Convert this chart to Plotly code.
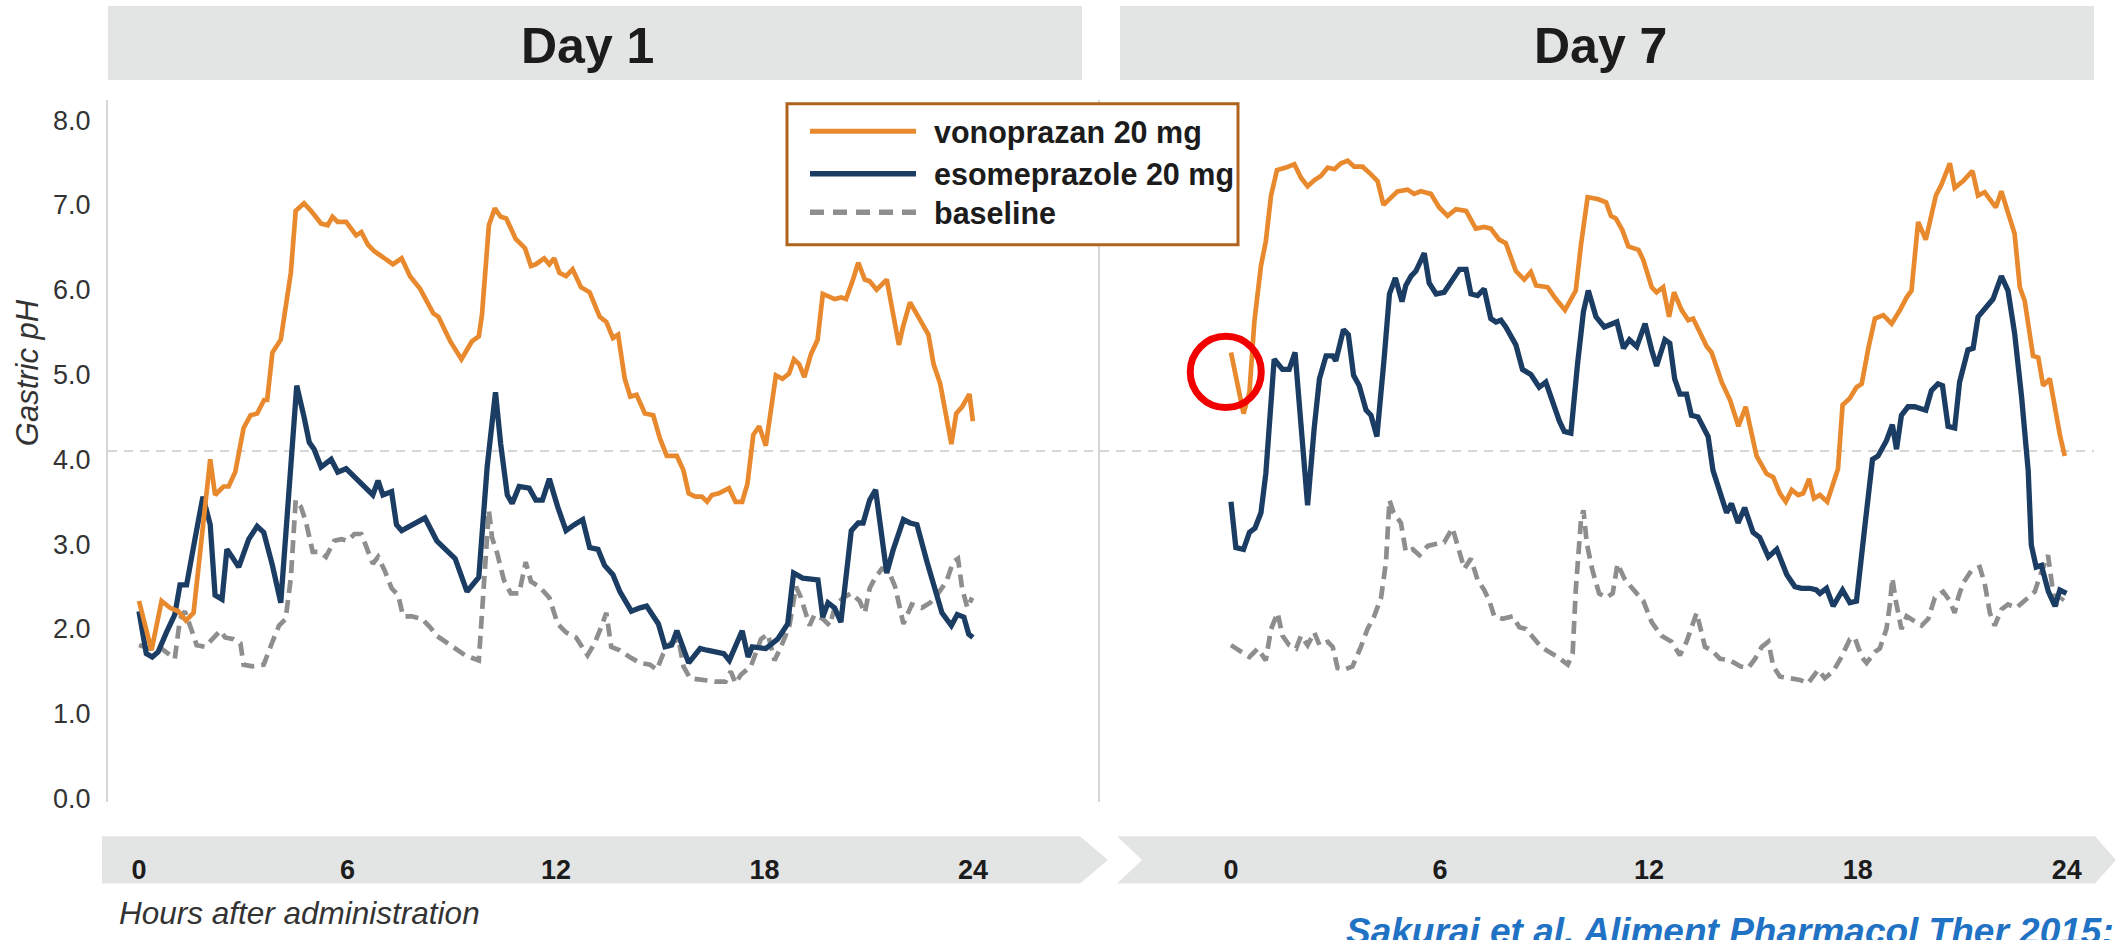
"""
Gastric pH over 24 h after vonoprazan 20 mg vs esomeprazole 20 mg
(Day 1 and Day 7 panels, baseline for reference).
"""

import plotly.graph_objects as go

# ─── Data (hours after administration, gastric pH) ──────────
D1_VONO_H = [0, 0.36, 0.65, 0.89, 1.13, 1.35, 1.57, 2.05, 2.19, 2.43, 2.58, 2.77, 3.01, 3.21, 3.40,
             3.60, 3.69, 3.84, 4.08, 4.22, 4.37, 4.51, 4.75, 4.95, 5.24, 5.43, 5.57, 5.72, 5.96,
             6.25, 6.40, 6.59, 6.78, 7.07, 7.31, 7.56, 7.80, 8.09, 8.47, 8.62, 8.96, 9.28, 9.58,
             9.78, 9.87, 10.07, 10.24, 10.41, 10.57, 10.84, 10.99, 11.11, 11.28, 11.42, 11.66,
             11.81, 11.95, 12.10, 12.29, 12.48, 12.72, 12.97, 13.26, 13.45, 13.64, 13.79, 13.98,
             14.14, 14.32, 14.56, 14.80, 14.99, 15.19, 15.48, 15.67, 15.82, 16.01, 16.20, 16.35,
             16.49, 16.69, 16.98, 17.17, 17.36, 17.51, 17.68, 17.85, 18.04, 18.33, 18.52, 18.71,
             18.85, 19.00, 19.15, 19.34, 19.53, 19.68, 20.02, 20.21, 20.35, 20.55, 20.70, 20.89,
             21.03, 21.23, 21.52, 21.71, 21.87, 22.00, 22.19, 22.43, 22.72, 22.87, 23.06, 23.38,
             23.52, 23.69, 23.90, 24.00]
D1_VONO_PH = [2.33, 1.75, 2.33, 2.25, 2.21, 2.10, 2.19, 4.00, 3.58, 3.68, 3.68, 3.85, 4.37, 4.52, 4.54,
              4.70, 4.70, 5.26, 5.41, 5.78, 6.20, 6.93, 7.02, 6.93, 6.78, 6.76, 6.86, 6.80, 6.80,
              6.64, 6.68, 6.53, 6.45, 6.37, 6.30, 6.37, 6.16, 6.01, 5.72, 5.68, 5.39, 5.18, 5.39,
              5.45, 5.70, 6.76, 6.96, 6.86, 6.84, 6.60, 6.53, 6.49, 6.28, 6.30, 6.37,
              6.30, 6.37, 6.20, 6.16, 6.24, 6.03, 5.97, 5.68, 5.62, 5.43, 5.47, 4.95,
              4.74, 4.76, 4.54, 4.52, 4.25, 4.04, 4.04, 3.87, 3.60, 3.56, 3.56, 3.50,
              3.58, 3.60, 3.66, 3.50, 3.50, 3.71, 4.29, 4.39, 4.16, 4.99, 4.95, 5.01,
              5.18, 5.12, 4.97, 5.24, 5.41, 5.95, 5.89, 5.91, 5.89, 6.12, 6.32, 6.12,
              6.10, 6.00, 6.12, 5.70, 5.35, 5.58, 5.85, 5.68, 5.47, 5.12, 4.89, 4.18,
              4.54, 4.62, 4.77, 4.45]

D1_ESO_H = [0, 0.21, 0.38, 0.55, 0.79, 1.03, 1.18, 1.37, 1.61, 1.84, 2.05, 2.19, 2.39, 2.53, 2.68,
            2.87, 3.16, 3.40, 3.59, 3.84, 4.08, 4.32, 4.54, 4.75, 4.90, 5.04, 5.24, 5.53, 5.72,
            5.96, 6.20, 6.40, 6.73, 6.88, 7.02, 7.27, 7.41, 7.56, 7.89, 8.23, 8.57, 8.81, 9.10,
            9.44, 9.78, 10.02, 10.26, 10.41, 10.60, 10.74, 10.94, 11.23, 11.42, 11.61, 11.81,
            12.05, 12.29, 12.53, 12.77, 12.97, 13.21, 13.40, 13.64, 13.84, 14.17, 14.42, 14.61,
            14.95, 15.14, 15.33, 15.48, 15.82, 16.15, 16.35, 16.64, 16.83, 16.99, 17.36, 17.53,
            17.65, 18.04, 18.38, 18.67, 18.84, 19.10, 19.35, 19.54, 19.68, 19.83, 20.02, 20.20,
            20.50, 20.70, 20.84, 21.03, 21.20, 21.52, 21.71, 22.00, 22.19, 22.39, 22.68, 22.97,
            23.11, 23.38, 23.55, 23.74, 23.88, 24.00]
D1_ESO_PH = [2.21, 1.71, 1.67, 1.73, 1.96, 2.17, 2.52, 2.52, 3.06, 3.56, 3.23, 2.40, 2.35, 2.94, 2.85,
             2.73, 3.06, 3.21, 3.14, 2.75, 2.31, 3.68, 4.87, 4.50, 4.20, 4.12, 3.91, 4.00, 3.85,
             3.89, 3.79, 3.70, 3.58, 3.75, 3.58, 3.62, 3.23, 3.16, 3.23, 3.31, 3.04, 2.94, 2.83,
             2.44, 2.61, 3.91, 4.79, 4.18, 3.58, 3.48, 3.68, 3.66, 3.52, 3.52, 3.77,
             3.44, 3.16, 3.23, 3.29, 2.96, 2.94, 2.75, 2.64, 2.44, 2.21, 2.25, 2.27,
             2.06, 1.79, 1.81, 1.98, 1.60, 1.77, 1.75, 1.73, 1.71, 1.63, 1.98, 1.67,
             1.79, 1.77, 1.88, 2.06, 2.66, 2.60, 2.58, 2.58, 2.14, 2.31, 2.25, 2.08,
             3.16, 3.25, 3.25, 3.52, 3.64, 2.66, 2.94, 3.29, 3.25, 3.23, 2.79, 2.37,
             2.19, 2.04, 2.17, 2.14, 1.94, 1.90]

D1_BASE_H = [0, 0.31, 0.65, 1.03, 1.18, 1.32, 1.52, 1.66, 1.90, 2.10, 2.34, 2.48, 2.72, 2.92, 3.01,
             3.26, 3.59, 3.84, 4.03, 4.22, 4.37, 4.51, 4.66, 4.80, 5.00, 5.19, 5.38, 5.62, 5.82,
             6.01, 6.20, 6.40, 6.59, 6.73, 6.88, 7.07, 7.27, 7.46, 7.60, 7.85, 8.14, 8.38, 8.57,
             8.81, 9.10, 9.39, 9.78, 9.92, 10.07, 10.16, 10.31, 10.50, 10.70, 10.94, 11.13, 11.28,
             11.52, 11.81, 12.05, 12.29, 12.58, 12.91, 13.11, 13.30, 13.45, 13.59, 13.84, 14.12,
             14.42, 14.71, 14.90, 15.09, 15.29, 15.53, 15.67, 15.86, 16.20, 16.59, 16.88, 17.03,
             17.17, 17.32, 17.61, 17.90, 18.10, 18.29, 18.48, 18.72, 18.91, 19.05, 19.30, 19.44,
             19.68, 19.88, 20.02, 20.26, 20.50, 20.74, 20.89, 21.03, 21.18, 21.38, 21.57, 21.76,
             22.00, 22.24, 22.53, 22.77, 23.00, 23.24, 23.43, 23.57, 23.69, 23.84, 23.98]
D1_BASE_PH = [1.81, 1.77, 1.77, 1.65, 2.12, 2.21, 1.98, 1.81, 1.79, 1.88, 1.98, 1.90, 1.88, 1.83, 1.58,
              1.56, 1.58, 1.85, 2.04, 2.12, 2.60, 3.52, 3.44, 3.27, 2.91, 2.91, 2.85, 3.04, 3.06,
              3.04, 3.12, 3.12, 2.91, 2.77, 2.85, 2.69, 2.48, 2.40, 2.15, 2.15, 2.12, 2.02, 1.92,
              1.85, 1.77, 1.69, 1.63, 2.50, 3.40, 3.08, 2.89, 2.58, 2.42, 2.42, 2.79, 2.56,
              2.50, 2.37, 2.06, 1.96, 1.90, 1.69, 1.83, 2.02, 2.19, 1.79, 1.75, 1.67,
              1.60, 1.58, 1.52, 1.71, 1.83, 1.88, 1.56, 1.42, 1.40, 1.38, 1.38, 1.50,
              1.36, 1.46, 1.56, 1.88, 1.94, 1.63, 1.79, 2.04, 2.50, 2.37, 2.04, 2.17,
              2.12, 2.04, 2.25, 2.37, 2.42, 2.33, 2.19, 2.48, 2.60, 2.71, 2.69, 2.50,
              2.06, 2.29, 2.25, 2.31, 2.42, 2.56, 2.79, 2.83, 2.48, 2.25, 2.37]

D7_VONO_H = [0, 0.36, 0.53, 0.67, 0.86, 1.00, 1.15, 1.32, 1.58, 1.82, 2.01, 2.20, 2.39, 2.58, 2.78,
             2.97, 3.16, 3.35, 3.54, 3.78, 4.02, 4.21, 4.38, 4.59, 4.78, 5.07, 5.26, 5.45, 5.74,
             5.98, 6.22, 6.46, 6.75, 7.03, 7.27, 7.46, 7.70, 7.89, 8.18, 8.42, 8.61, 8.76, 9.09,
             9.33, 9.59, 9.90, 10.05, 10.24, 10.53, 10.77, 10.91, 11.05, 11.24, 11.41, 11.70,
             11.84, 12.08, 12.22, 12.41, 12.58, 12.72, 12.94, 13.13, 13.27, 13.46, 13.66, 13.80,
             14.09, 14.33, 14.57, 14.78, 15.09, 15.38, 15.57, 15.76, 15.93, 16.10, 16.29, 16.43,
             16.60, 16.74, 16.91, 17.12, 17.43, 17.56, 17.77, 17.96, 18.11, 18.30, 18.49, 18.73,
             18.97, 19.21, 19.40, 19.54, 19.73, 19.95, 20.11, 20.24, 20.40, 20.64, 20.78, 21.02,
             21.29, 21.45, 21.64, 21.96, 22.12, 22.31, 22.50, 22.65, 22.79, 23.03, 23.18, 23.32,
             23.51, 23.80, 23.94]
D7_VONO_PH = [5.26, 4.54, 4.79, 5.62, 6.28, 6.57, 7.11, 7.41, 7.44, 7.48, 7.32, 7.22, 7.29, 7.34, 7.44,
              7.42, 7.49, 7.52, 7.45, 7.45, 7.36, 7.28, 7.00, 7.09, 7.16, 7.18, 7.13, 7.16, 7.13,
              6.97, 6.87, 6.95, 6.93, 6.72, 6.74, 6.72, 6.59, 6.55, 6.22, 6.12, 6.21, 6.05, 6.03,
              5.89, 5.76, 5.99, 6.53, 7.09, 7.07, 7.03, 6.87, 6.84, 6.70, 6.51, 6.47,
              6.35, 6.03, 5.97, 6.03, 5.68, 5.97, 5.76, 5.64, 5.66, 5.51, 5.33, 5.26,
              4.91, 4.70, 4.39, 4.62, 4.04, 3.83, 3.79, 3.60, 3.50, 3.64, 3.58, 3.60,
              3.77, 3.54, 3.58, 3.50, 3.89, 4.64, 4.72, 4.85, 4.89, 5.31, 5.66, 5.70,
              5.60, 5.76, 5.91, 5.99, 6.80, 6.59, 6.89, 7.11, 7.24, 7.49, 7.20, 7.28,
              7.40, 7.11, 7.15, 6.97, 7.16, 6.89, 6.66, 6.03, 5.87, 5.22, 5.20, 4.87,
              4.95, 4.29, 4.04]

D7_ESO_H = [0, 0.14, 0.36, 0.53, 0.69, 0.86, 1.00, 1.24, 1.48, 1.67, 1.84, 2.01, 2.20, 2.39, 2.54,
            2.73, 2.92, 3.01, 3.23, 3.37, 3.52, 3.68, 3.88, 4.02, 4.19, 4.40, 4.55, 4.72, 4.91,
            5.02, 5.17, 5.31, 5.55, 5.69, 5.89, 6.12, 6.33, 6.56, 6.75, 6.89, 7.08, 7.27, 7.46,
            7.61, 7.75, 7.89, 8.18, 8.37, 8.61, 8.85, 9.04, 9.23, 9.43, 9.57, 9.76, 9.95, 10.12,
            10.26, 10.48, 10.72, 10.91, 11.08, 11.27, 11.44, 11.65, 11.89, 12.08, 12.22, 12.46,
            12.60, 12.74, 12.89, 13.08, 13.22, 13.41, 13.70, 13.84, 13.99, 14.23, 14.37, 14.56,
            14.75, 14.99, 15.18, 15.43, 15.67, 15.96, 16.19, 16.38, 16.62, 16.81, 16.91, 17.10,
            17.29, 17.56, 17.77, 17.96, 18.20, 18.42, 18.58, 18.82, 18.99, 19.11, 19.25, 19.44,
            19.63, 19.78, 19.95, 20.11, 20.30, 20.43, 20.59, 20.78, 20.92, 21.16, 21.31, 21.45,
            21.64, 21.88, 22.12, 22.31, 22.50, 22.70, 22.89, 22.98, 23.12, 23.27, 23.47, 23.66,
            23.80, 23.99]
D7_ESO_PH = [3.50, 2.96, 2.94, 3.14, 3.19, 3.37, 3.83, 5.18, 5.06, 5.06, 5.26, 4.45, 3.46, 4.37, 4.95,
             5.22, 5.22, 5.16, 5.53, 5.47, 4.99, 4.87, 4.58, 4.52, 4.27, 5.20, 5.95, 6.14, 5.86,
             6.05, 6.16, 6.22, 6.43, 6.08, 5.95, 5.97, 6.10, 6.24, 6.24, 5.95, 5.93, 6.01, 5.66,
             5.62, 5.64, 5.56, 5.35, 5.06, 5.00, 4.85, 4.91, 4.68, 4.45, 4.33, 4.31, 5.12, 5.74,
             5.99, 5.68, 5.56, 5.60, 5.62, 5.31, 5.41, 5.33, 5.60, 5.29, 5.10, 5.41,
             5.37, 4.95, 4.77, 4.77, 4.52, 4.50, 4.27, 3.87, 3.68, 3.37, 3.48, 3.25,
             3.43, 3.14, 3.08, 2.85, 2.94, 2.64, 2.50, 2.48, 2.48, 2.46, 2.42, 2.48,
             2.27, 2.46, 2.31, 2.33, 3.21, 4.00, 4.04, 4.22, 4.41, 4.12, 4.52, 4.62,
             4.62, 4.60, 4.58, 4.81, 4.89, 4.87, 4.39, 4.37, 4.91, 5.29, 5.31, 5.68,
             5.78, 5.89, 6.16, 5.99, 5.49, 4.74, 3.87, 2.99, 2.73, 2.75, 2.44, 2.27,
             2.46, 2.42]

D7_BASE_H = [0, 0.29, 0.53, 0.77, 1.00, 1.15, 1.34, 1.48, 1.67, 1.87, 2.01, 2.20, 2.39, 2.54, 2.78,
             2.92, 3.06, 3.25, 3.49, 3.73, 3.92, 4.11, 4.31, 4.45, 4.55, 4.67, 4.88, 5.02, 5.22,
             5.41, 5.65, 5.84, 6.12, 6.36, 6.51, 6.70, 6.89, 7.08, 7.27, 7.42, 7.56, 7.80, 8.09,
             8.28, 8.47, 8.66, 8.90, 9.14, 9.38, 9.67, 9.81, 9.90, 10.05, 10.12, 10.22, 10.38,
             10.57, 10.77, 10.96, 11.10, 11.29, 11.48, 11.67, 11.84, 12.08, 12.36, 12.65, 12.89,
             13.08, 13.22, 13.37, 13.51, 13.61, 13.80, 14.04, 14.33, 14.62, 14.85, 15.05, 15.24,
             15.43, 15.57, 15.76, 16.05, 16.34, 16.57, 16.86, 17.05, 17.29, 17.53, 17.77, 17.91,
             18.11, 18.25, 18.49, 18.63, 18.82, 18.92, 18.99, 19.09, 19.25, 19.40, 19.64, 19.83,
             20.02, 20.21, 20.45, 20.64, 20.78, 20.88, 21.02, 21.26, 21.50, 21.64, 21.79, 21.93,
             22.12, 22.31, 22.55, 22.79, 23.08, 23.22, 23.46, 23.61, 23.71, 23.90]
D7_BASE_PH = [1.81, 1.73, 1.67, 1.77, 1.63, 2.00, 2.19, 1.92, 1.81, 1.77, 1.92, 1.81, 1.96, 1.81, 1.85,
              1.79, 1.54, 1.52, 1.56, 1.79, 2.00, 2.15, 2.37, 2.79, 3.52, 3.37, 3.25, 2.91, 2.94,
              2.87, 2.98, 3.00, 3.02, 3.19, 2.96, 2.71, 2.83, 2.58, 2.46, 2.33, 2.15, 2.12, 2.15,
              2.02, 2.00, 1.90, 1.79, 1.73, 1.67, 1.58, 1.71, 2.46, 3.29, 3.40, 3.00, 2.69,
              2.42, 2.37, 2.42, 2.77, 2.60, 2.50, 2.42, 2.33, 2.08, 1.92, 1.85, 1.69,
              1.85, 2.00, 2.19, 1.96, 1.79, 1.75, 1.65, 1.63, 1.56, 1.54, 1.65, 1.79,
              1.85, 1.56, 1.44, 1.42, 1.40, 1.36, 1.52, 1.42, 1.50, 1.67, 1.88, 1.90,
              1.67, 1.60, 1.73, 1.77, 2.00, 2.29, 2.60, 2.33, 2.00, 2.15, 2.08, 2.04,
              2.12, 2.37, 2.44, 2.33, 2.19, 2.37, 2.54, 2.69, 2.73, 2.54, 2.19, 2.04,
              2.23, 2.29, 2.25, 2.33, 2.44, 2.62, 2.87, 2.42, 2.27, 2.37]

X_TICKS = [0, 6, 12, 18, 24]
Y_TICKS = [0, 1, 2, 3, 4, 5, 6, 7, 8]
Y_TICK_TEXT = ["0.0", "1.0", "2.0", "3.0", "4.0", "5.0", "6.0", "7.0", "8.0"]
PH_THRESHOLD = 4.1

# ─── Colors ─────────────────────────────────────────────────
VONO_CLR = "#e8892e"
ESO_CLR = "#1b3d63"
BASE_CLR = "#8e8e8e"
BAND_CLR = "#e3e5e4"
AXIS_CLR = "#d6d6d6"
LEGEND_EDGE = "#b0631c"
TEXT_CLR = "#1c1c1c"
CITE_CLR = "#1f72c4"
FONT = "Liberation Sans, Arial, sans-serif"

# ─── Canvas (pixels) ────────────────────────────────────────
W_PX, H_PX = 2121, 940


def px(x):
    return x / W_PX


def py(y):
    return 1 - y / H_PX


def note(text, x, y, size, color=TEXT_CLR, xanchor="center", yanchor="middle", **kw):
    """Paper-anchored annotation placed in pixel coordinates."""
    return dict(x=px(x), y=py(y), xref="paper", yref="paper", showarrow=False,
                xanchor=xanchor, yanchor=yanchor, text=text,
                font=dict(family=FONT, size=size, color=color), **kw)


def create_figure():
    fig = go.Figure()

    # ── 1. data lines (baseline under, vonoprazan on top) ────
    panels = [
        ("x", "y", D1_BASE_H, D1_BASE_PH, D1_ESO_H, D1_ESO_PH, D1_VONO_H, D1_VONO_PH),
        ("x2", "y2", D7_BASE_H, D7_BASE_PH, D7_ESO_H, D7_ESO_PH, D7_VONO_H, D7_VONO_PH),
    ]
    for xa, ya, bh, bp, eh, ep, vh, vp in panels:
        fig.add_trace(go.Scatter(
            x=bh, y=bp, xaxis=xa, yaxis=ya, mode="lines", name="baseline",
            line=dict(color=BASE_CLR, width=4.7, dash="13px,7px"),
            showlegend=False, hoverinfo="skip",
        ))
        fig.add_trace(go.Scatter(
            x=eh, y=ep, xaxis=xa, yaxis=ya, mode="lines", name="esomeprazole 20 mg",
            line=dict(color=ESO_CLR, width=5.3),
            showlegend=False, hoverinfo="skip",
        ))
        fig.add_trace(go.Scatter(
            x=vh, y=vp, xaxis=xa, yaxis=ya, mode="lines", name="vonoprazan 20 mg",
            line=dict(color=VONO_CLR, width=4.7),
            showlegend=False, hoverinfo="skip",
        ))

    shapes = []

    # ── 2. header boxes + x-axis chevron bands ───────────────
    for x0, x1 in [(108, 1082), (1120, 2094)]:
        shapes.append(dict(type="rect", xref="paper", yref="paper",
                           x0=px(x0), x1=px(x1), y0=py(81), y1=py(6),
                           fillcolor=BAND_CLR, line=dict(width=0), layer="below"))

    def path(pts):
        return "M " + " L ".join(f"{px(a):.5f},{py(b):.5f}" for a, b in pts) + " Z"

    shapes.append(dict(type="path", xref="paper", yref="paper", layer="below",
                       path=path([(102, 847), (1080, 847), (1108, 871), (1080, 895), (102, 895)]),
                       fillcolor=BAND_CLR, line=dict(width=0)))
    shapes.append(dict(type="path", xref="paper", yref="paper", layer="below",
                       path=path([(1117, 847), (2095, 847), (2116, 871), (2095, 895),
                                  (1117, 895), (1142, 871)]),
                       fillcolor=BAND_CLR, line=dict(width=0)))

    # ── 3. pH threshold dashed line across both panels ───────
    shapes.append(dict(type="line", xref="paper", yref="y", layer="below",
                       x0=px(108), x1=px(2094), y0=PH_THRESHOLD, y1=PH_THRESHOLD,
                       line=dict(color=AXIS_CLR, width=2, dash="9px,7px")))

    # ── 4. legend box (drawn by hand) ────────────────────────
    shapes.append(dict(type="rect", xref="paper", yref="paper", layer="above",
                       x0=px(787), x1=px(1238), y0=py(248), y1=py(105),
                       fillcolor="white", line=dict(color=LEGEND_EDGE, width=3)))
    legend_rows = [
        ("vonoprazan 20 mg", VONO_CLR, "solid", 5, 133),
        ("esomeprazole 20 mg", ESO_CLR, "solid", 5.5, 176),
        ("baseline", BASE_CLR, "14px,9px", 5.5, 215),
    ]
    annotations = []
    for label, clr, dash, lw, yy in legend_rows:
        shapes.append(dict(type="line", xref="paper", yref="paper", layer="above",
                           x0=px(810), x1=px(916), y0=py(yy), y1=py(yy),
                           line=dict(color=clr, width=lw, dash=dash)))
        annotations.append(note(f"<b>{label}</b>", 932, yy + 1, 30.5, xanchor="left"))

    # ── 5. red highlight circle at Day 7 start ───────────────
    shapes.append(dict(type="circle", xref="x2", yref="y2", layer="above",
                       x0=-1.17, x1=0.87, y0=4.61, y1=5.45,
                       line=dict(color="#f20000", width=7)))

    # ── 6. text annotations ──────────────────────────────────
    annotations.append(note("<b>Day 1</b>", 587, 47, 50))
    annotations.append(note("<b>Day 7</b>", 1600, 47, 50))
    annotations.append(note("<i>Gastric pH</i>", 27, 378, 31, color="#333333", textangle=-90))
    annotations.append(note("<i>Hours after administration</i>", 117, 925, 31.5,
                            color="#333333", xanchor="left"))
    annotations.append(note("<b><i>Sakurai et al. Aliment Pharmacol Ther 2015;</i></b>",
                            1344, 921, 37, color=CITE_CLR, xanchor="left", yanchor="top"))

    # ── 7. axes ──────────────────────────────────────────────
    y_dom = [py(812), py(101)]
    y_rng = [-0.035, 8.24]
    x_common = dict(
        tickvals=X_TICKS, ticktext=[str(t) for t in X_TICKS],
        ticks="outside", ticklen=44, tickcolor="rgba(0,0,0,0)",
        tickfont=dict(family=FONT, size=27, color=TEXT_CLR, weight="bold"),
        showgrid=False, zeroline=False, showline=False, fixedrange=True,
    )
    y_common = dict(
        range=y_rng, domain=y_dom, tickvals=Y_TICKS,
        showgrid=False, zeroline=False,
        showline=True, linecolor=AXIS_CLR, linewidth=2,
        ticks="outside", ticklen=10, tickcolor="rgba(0,0,0,0)",
    )

    fig.update_layout(
        width=W_PX, height=H_PX, autosize=False,
        margin=dict(l=0, r=0, t=0, b=0),
        paper_bgcolor="white", plot_bgcolor="white",
        showlegend=False,
        xaxis=dict(domain=[px(108), px(1000)], range=[-0.892, 24.78], anchor="y", **x_common),
        xaxis2=dict(domain=[px(1100), px(2094)], range=[-3.761, 24.78], anchor="y2", **x_common),
        yaxis=dict(anchor="x", ticktext=Y_TICK_TEXT,
                   tickfont=dict(family=FONT, size=27, color="#333333"), **y_common),
        yaxis2=dict(anchor="x2", showticklabels=False, **y_common),
        shapes=shapes,
        annotations=annotations,
        font=dict(family=FONT, color=TEXT_CLR),
    )
    return fig


if __name__ == "__main__":
    fig = create_figure()
    # page body has a default 8px margin; drop it so the figure sits at the corner
    fig.write_html("out.html", config={"displayModeBar": False},
                   post_script="document.body.style.margin='0px';")
